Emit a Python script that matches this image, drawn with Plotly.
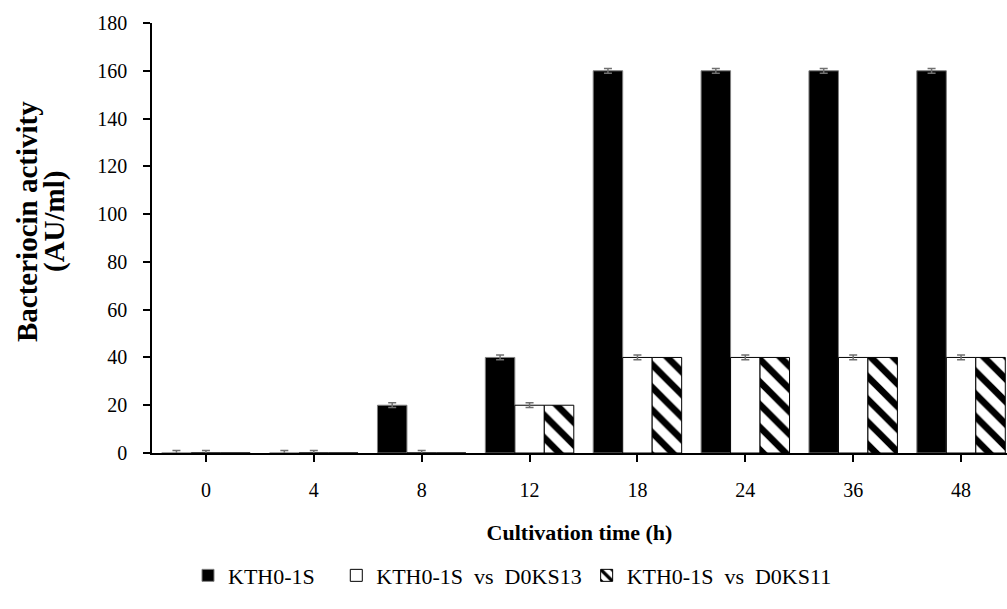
import plotly.graph_objects as go

categories = ["0", "4", "8", "12", "18", "24", "36", "48"]
kth = [0, 0, 20, 40, 160, 160, 160, 160]
kth_err = [1, 1, 1, 1, 1, 1, 1, 1]
vs13 = [0, 0, 0, 20, 40, 40, 40, 40]
vs13_err = [1, 1, 1, 1, 1, 1, 1, 1]
vs11 = [0, 0, 0, 20, 40, 40, 40, 40]
y_title_lines = ["Bacteriocin activity", "(AU/ml)"]

FONT = "Liberation Serif, Times New Roman, serif"
NB = "\u00a0"

L, T, PW, PH = 152, 23, 855, 430

fig = go.Figure()
fig.add_trace(go.Bar(
    x=categories, y=kth, name="KTH0-1S" + NB * 3,
    marker=dict(color="black", line=dict(color="#7f7f7f", width=1)),
    error_y=dict(type="data", array=kth_err, color="#707070", thickness=1.5, width=4),
))
fig.add_trace(go.Bar(
    x=categories, y=vs13, name="KTH0-1S" + NB * 2 + "vs" + NB * 2 + "D0KS13",
    marker=dict(color="white", line=dict(color="black", width=1)),
    error_y=dict(type="data", array=vs13_err, color="#707070", thickness=1.5, width=4),
))
fig.add_trace(go.Bar(
    x=categories, y=vs11, name="KTH0-1S" + NB * 2 + "vs" + NB * 2 + "D0KS11",
    marker=dict(color="white", line=dict(color="black", width=1),
                pattern=dict(shape="\\", fgcolor="black", bgcolor="white", fgopacity=1,
                             size=16, solidity=0.42)),
))

right_cut = (1015 - 1007) / 107.86
for line, px in zip(y_title_lines, [27, 54]):
    fig.add_annotation(
        text="<b>" + line + "</b>", textangle=-90,
        xref="paper", yref="paper", x=(px - L) / PW, y=(T + PH - 222) / PH,
        xanchor="center", yanchor="middle", showarrow=False,
        font=dict(family=FONT, size=29, color="black"),
    )

fig.update_layout(
    width=1007, height=609,
    margin=dict(l=L, r=0, t=T, b=609 - T - PH),
    paper_bgcolor="white", plot_bgcolor="white",
    barmode="group", bargap=0.18, bargroupgap=0,
    font=dict(family=FONT, size=20, color="black"),
    showlegend=True,
    legend=dict(orientation="h", x=(188 - L) / PW, xanchor="left", y=-0.285, yanchor="middle",
                font=dict(family=FONT, size=22), traceorder="normal",
                itemwidth=30, tracegroupgap=0),
    xaxis=dict(
        range=[-0.5, 7.5 - right_cut], automargin=False,
        showline=True, linecolor="black", linewidth=1.5,
        ticks="outside", ticklen=7, tickcolor="black", tickwidth=1.5,
        ticklabelstandoff=11,
        tickfont=dict(family=FONT, size=20),
        title=dict(text="<b>Cultivation time (h)</b>", font=dict(family=FONT, size=22), standoff=25),
        showgrid=False, zeroline=False,
    ),
    yaxis=dict(
        range=[0, 180], dtick=20, automargin=False,
        showline=True, linecolor="black", linewidth=1.5,
        ticks="outside", ticklen=7, tickcolor="black", tickwidth=1.5,
        ticklabelstandoff=12,
        tickfont=dict(family=FONT, size=20),
        showgrid=False, zeroline=False,
    ),
)

fig.write_html("out.html", config={"displayModeBar": False},
               post_script="document.body.style.margin='0';")
